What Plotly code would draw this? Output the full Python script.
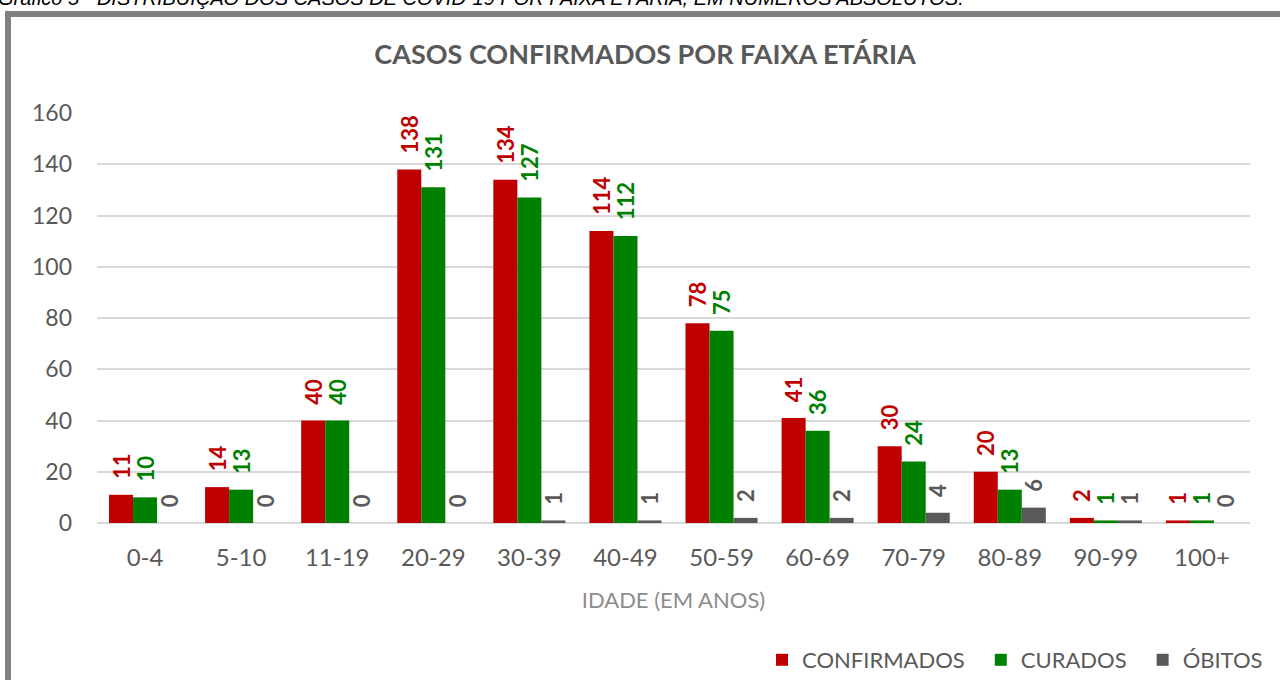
import plotly.graph_objects as go

categories = ["0-4", "5-10", "11-19", "20-29", "30-39", "40-49", "50-59", "60-69", "70-79", "80-89", "90-99", "100+"]
confirmados = [11, 14, 40, 138, 134, 114, 78, 41, 30, 20, 2, 1]
curados = [10, 13, 40, 131, 127, 112, 75, 36, 24, 13, 1, 1]
obitos = [0, 0, 0, 0, 1, 1, 2, 2, 4, 6, 1, 0]
y_ticks = [0, 20, 40, 60, 80, 100, 120, 140, 160]

FONT = "Lato, 'Open Sans', sans-serif"
W, H = 1280, 680
L, R, T, B = 97, 30, 113, 157
pw, ph = W - L - R, H - T - B

def px_x(p):
    return (p - L) / pw

def px_y(p):
    return (H - B - p) / ph

series = [
    ("CONFIRMADOS\u2002", confirmados, "#C00000"),
    ("CURADOS\u2002", curados, "#008000"),
    ("ÓBITOS", obitos, "#595959"),
]

fig = go.Figure()
for name, vals, col in series:
    fig.add_trace(go.Bar(
        x=categories, y=vals, name=name,
        marker=dict(color=col, line=dict(width=0)),
        text=["\u2007<b>" + str(v) + "</b>" for v in vals],
        textposition="outside",
        textangle=-90,
        constraintext="none",
        cliponaxis=False,
        textfont=dict(family=FONT, size=22, color=col),
    ))

fig.update_layout(
    width=W, height=H,
    margin=dict(l=L, r=R, t=T, b=B, autoexpand=False),
    paper_bgcolor="white", plot_bgcolor="white",
    barmode="group", bargap=0.25, bargroupgap=0,
    font=dict(family=FONT, color="#595959"),
    title=dict(text="<b>CASOS CONFIRMADOS POR FAIXA ETÁRIA</b>",
               x=645 / W, xanchor="center", y=1 - 55 / H, yanchor="middle",
               font=dict(family=FONT, size=27, color="#595959")),
    xaxis=dict(showgrid=False, showline=False, zeroline=False, ticks="",
               automargin=False,
               tickfont=dict(family=FONT, size=24, color="#595959"),
               ticklabelstandoff=18,
               title=dict(text="IDADE (EM ANOS)", standoff=22,
                          font=dict(family=FONT, size=22, color="#8C8C8C"))),
    yaxis=dict(range=[0, 160], tickvals=y_ticks, showgrid=True,
               automargin=False,
               gridcolor="#D9D9D9", gridwidth=1.5, zeroline=True,
               zerolinecolor="#D9D9D9", zerolinewidth=1.5, showline=False,
               ticks="", tickfont=dict(family=FONT, size=23, color="#595959"),
               ticklabelstandoff=24),
    legend=dict(orientation="h", x=px_x(1268), xanchor="right",
                y=px_y(660), yanchor="middle",
                font=dict(family=FONT, size=22, color="#595959"),
                itemwidth=30, traceorder="normal"),
    showlegend=True,
)

fig.add_shape(type="rect", xref="paper", yref="paper",
              x0=px_x(8), x1=px_x(1300), y0=px_y(700), y1=px_y(14),
              line=dict(color="#808080", width=6), fillcolor="rgba(0,0,0,0)",
              layer="below")

fig.add_annotation(text="<i>Gráfico 5 - DISTRIBUIÇÃO DOS CASOS DE COVID-19 POR FAIXA ETÁRIA, EM NÚMEROS ABSOLUTOS.</i>",
                   xref="paper", yref="paper", x=px_x(-4), xanchor="left",
                   y=px_y(-2), yanchor="middle", showarrow=False,
                   font=dict(family="'Liberation Sans', Arial, sans-serif", size=20, color="black"))

fig.write_html("out.html", config={"displayModeBar": False},
               post_script="document.body.style.margin='0px';")
